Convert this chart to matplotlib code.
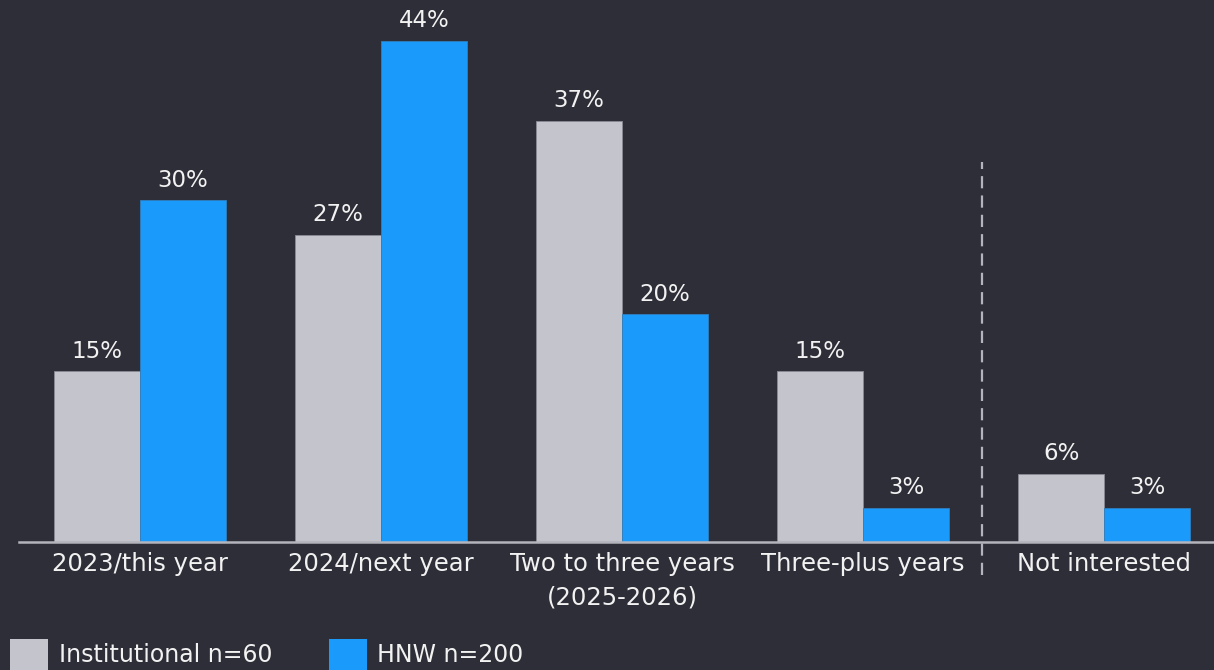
import matplotlib.pyplot as plt
from matplotlib.lines import Line2D
from matplotlib.patches import Patch
import numpy as np

# Horizon for investment, by investor type
categories = ['2023/this year', '2024/next year', 'Two to three years\n(2025-2026)',
              'Three-plus years', 'Not interested']
institutional = [15, 27, 37, 15, 6]
hnw = [30, 44, 20, 3, 3]
series_labels = ['Institutional n=60', 'HNW n=200']

bg = '#2e2e38'
grey = '#c4c4cd'
blue = '#1a9afa'
text_col = '#f2f2f2'

plt.rcParams['font.family'] = ['DejaVu Sans']

fig = plt.figure(figsize=(12.14, 6.7), dpi=100, facecolor=bg)
ax = fig.add_axes([19 / 1214, 0.191, 1 - 19 / 1214, 0.809])
ax.set_facecolor(bg)

x = np.arange(len(categories))
w = 0.357
b1 = ax.bar(x - w / 2, institutional, w, color=grey, edgecolor='#8a8a94', linewidth=0.6)
b2 = ax.bar(x + w / 2, hnw, w, color=blue, edgecolor='#2f7fc0', linewidth=0.6)

for bars, vals in ((b1, institutional), (b2, hnw)):
    for r, v in zip(bars, vals):
        ax.text(r.get_x() + r.get_width() / 2, v + 0.75, f'{v}%', ha='center', va='bottom',
                color=text_col, fontsize=16.5)

ax.set_xlim(-0.502, 4.456)
ax.set_ylim(0, 47.6)
ax.set_xticks(x)
ax.set_xticklabels(categories, color=text_col, fontsize=17.5, linespacing=1.5)
ax.tick_params(axis='x', length=0, pad=7)
ax.set_yticks([])
for side in ('top', 'right', 'left'):
    ax.spines[side].set_visible(False)
ax.spines['bottom'].set_color('#b4b4bc')
ax.spines['bottom'].set_linewidth(1.8)

# divider before the last group
ax.add_line(Line2D([3.494, 3.494], [-2.9, 33.4], color='#b4b4bc', linewidth=1.6,
                   linestyle=(0, (5.5, 3.2)), clip_on=False))

handles = [Patch(facecolor=grey, edgecolor='none'), Patch(facecolor=blue, edgecolor='none')]
fig.legend(handles, series_labels, loc='lower left', bbox_to_anchor=(-0.005, -0.024), ncol=2,
           frameon=False, fontsize=17, labelcolor=text_col, handlelength=1.6, handleheight=1.6,
           handletextpad=0.45, columnspacing=2.4, borderaxespad=0.3)

fig.savefig('out.png', dpi=100, facecolor=bg)
